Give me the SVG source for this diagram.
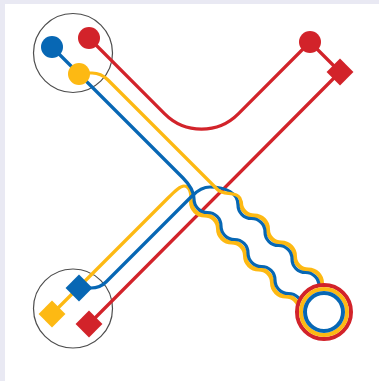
<svg xmlns="http://www.w3.org/2000/svg" width="379" height="381" viewBox="0 0 379 381">
  <defs>
    <style>
      .line{fill:none;stroke-width:3.2;stroke-linecap:round;stroke-linejoin:round}
      .edge{fill:none;stroke-width:4.4;stroke-linecap:round}
      .red{stroke:#d2232a}
      .blue{stroke:#0767b4}
      .yellow{stroke:#fdb913}
      .station{fill:none;stroke:#4d4d4d;stroke-width:1.2}
      .fr{fill:#d2232a}
      .fb{fill:#0767b4}
      .fy{fill:#fdb913}
      .ring{fill:#fff;stroke-width:4}
    </style>
    <rect id="diamond" x="-9.5" y="-9.5" width="19" height="19" transform="rotate(45)"/>
  </defs>

  <!-- canvas -->
  <rect width="379" height="381" fill="#e9e9f3"/>
  <rect x="5" y="4" width="374" height="377" fill="#fff"/>

  <!-- station outlines -->
  <g id="station-north"><circle class="station" cx="73" cy="53" r="39.5"/></g>
  <g id="station-south"><circle class="station" cx="73" cy="308.5" r="39.5"/></g>

  <g id="connectors">
    <!-- red route -->
    <path class="line red" d="M89,38 L164.7,113.8 A52,52 0 0 0 238.3,113.8 L310,42"/>
    <path class="line red" d="M310,42 L340,72"/>
    <path class="line red" d="M340,72 L89,324"/>

    <!-- yellow from the south station into the lower wave -->
    <path class="line yellow" d="M52,314 L168,198 C175,191 180,186 184,186 C188.5,186 191.2,191 191.2,201.8"/>
    <path class="edge yellow" d="M191.2,201.8
      a13.5,13.5 0 0 0 13.5,13.5 a13.5,13.5 0 0 1 13.5,13.5
      a13.5,13.5 0 0 0 13.5,13.5 a13.5,13.5 0 0 1 13.5,13.5
      a13.5,13.5 0 0 0 13.5,13.5 a13.5,13.5 0 0 1 13.5,13.5
      a13.5,13.5 0 0 0 13.5,13.5 a13.5,13.5 0 0 1 13.5,13.5"/>

    <!-- yellow edge of the upper wave -->
    <path class="edge yellow" d="M240.8,202.2
      a13.5,13.5 0 0 0 13.5,13.5 a13.5,13.5 0 0 1 13.5,13.5
      a13.5,13.5 0 0 0 13.5,13.5 a13.5,13.5 0 0 1 13.5,13.5
      a13.5,13.5 0 0 0 13.5,13.5 a13.5,13.5 0 0 1 13.5,13.5 v5"/>

    <!-- blue from the north station, lower wave -->
    <path class="line blue" d="M52,47 L183,178 C188,183 194,190 194,199
      a13.5,13.5 0 0 0 13.5,13.5 a13.5,13.5 0 0 1 13.5,13.5
      a13.5,13.5 0 0 0 13.5,13.5 a13.5,13.5 0 0 1 13.5,13.5
      a13.5,13.5 0 0 0 13.5,13.5 a13.5,13.5 0 0 1 13.5,13.5
      a13.5,13.5 0 0 0 13.5,13.5 a13.5,13.5 0 0 1 13.5,13.5"/>

    <!-- blue from the south station, upper wave -->
    <path class="line blue" d="M79,288 H91 Q100,288 106,282 L192,196 C197,191 203,187 210,187 C226,187 238,193 238,205
      a13.5,13.5 0 0 0 13.5,13.5 a13.5,13.5 0 0 1 13.5,13.5
      a13.5,13.5 0 0 0 13.5,13.5 a13.5,13.5 0 0 1 13.5,13.5
      a13.5,13.5 0 0 0 13.5,13.5 a13.5,13.5 0 0 1 13.5,13.5 v4"/>

    <!-- yellow from the north station into the upper wave -->
    <path class="line yellow" d="M79,73 H92 C100,73 104,76 108,80 L218,190 C224,196 240.8,190 240.8,202.2"/>
  </g>

  <!-- stops -->
  <g id="stop-north-blue"><circle class="fb" cx="52" cy="47" r="11"/></g>
  <g id="stop-north-red"><circle class="fr" cx="89" cy="38" r="11"/></g>
  <g id="stop-north-yellow"><circle class="fy" cx="79" cy="74" r="11"/></g>

  <g id="stop-south-blue"><use href="#diamond" x="79" y="288" class="fb"/></g>
  <g id="stop-south-yellow"><use href="#diamond" x="52" y="314" class="fy"/></g>
  <g id="stop-south-red"><use href="#diamond" x="89" y="324" class="fr"/></g>

  <g id="stop-east-red"><circle class="fr" cx="310" cy="42" r="11"/></g>
  <g id="stop-east-red-diamond"><use href="#diamond" x="340" y="72" class="fr"/></g>

  <!-- terminus rings -->
  <g id="terminus">
    <circle class="ring red" cx="324" cy="312" r="27"/>
    <circle class="ring yellow" cx="324" cy="312" r="23"/>
    <circle class="ring blue" cx="324" cy="312" r="19"/>
  </g>
</svg>
